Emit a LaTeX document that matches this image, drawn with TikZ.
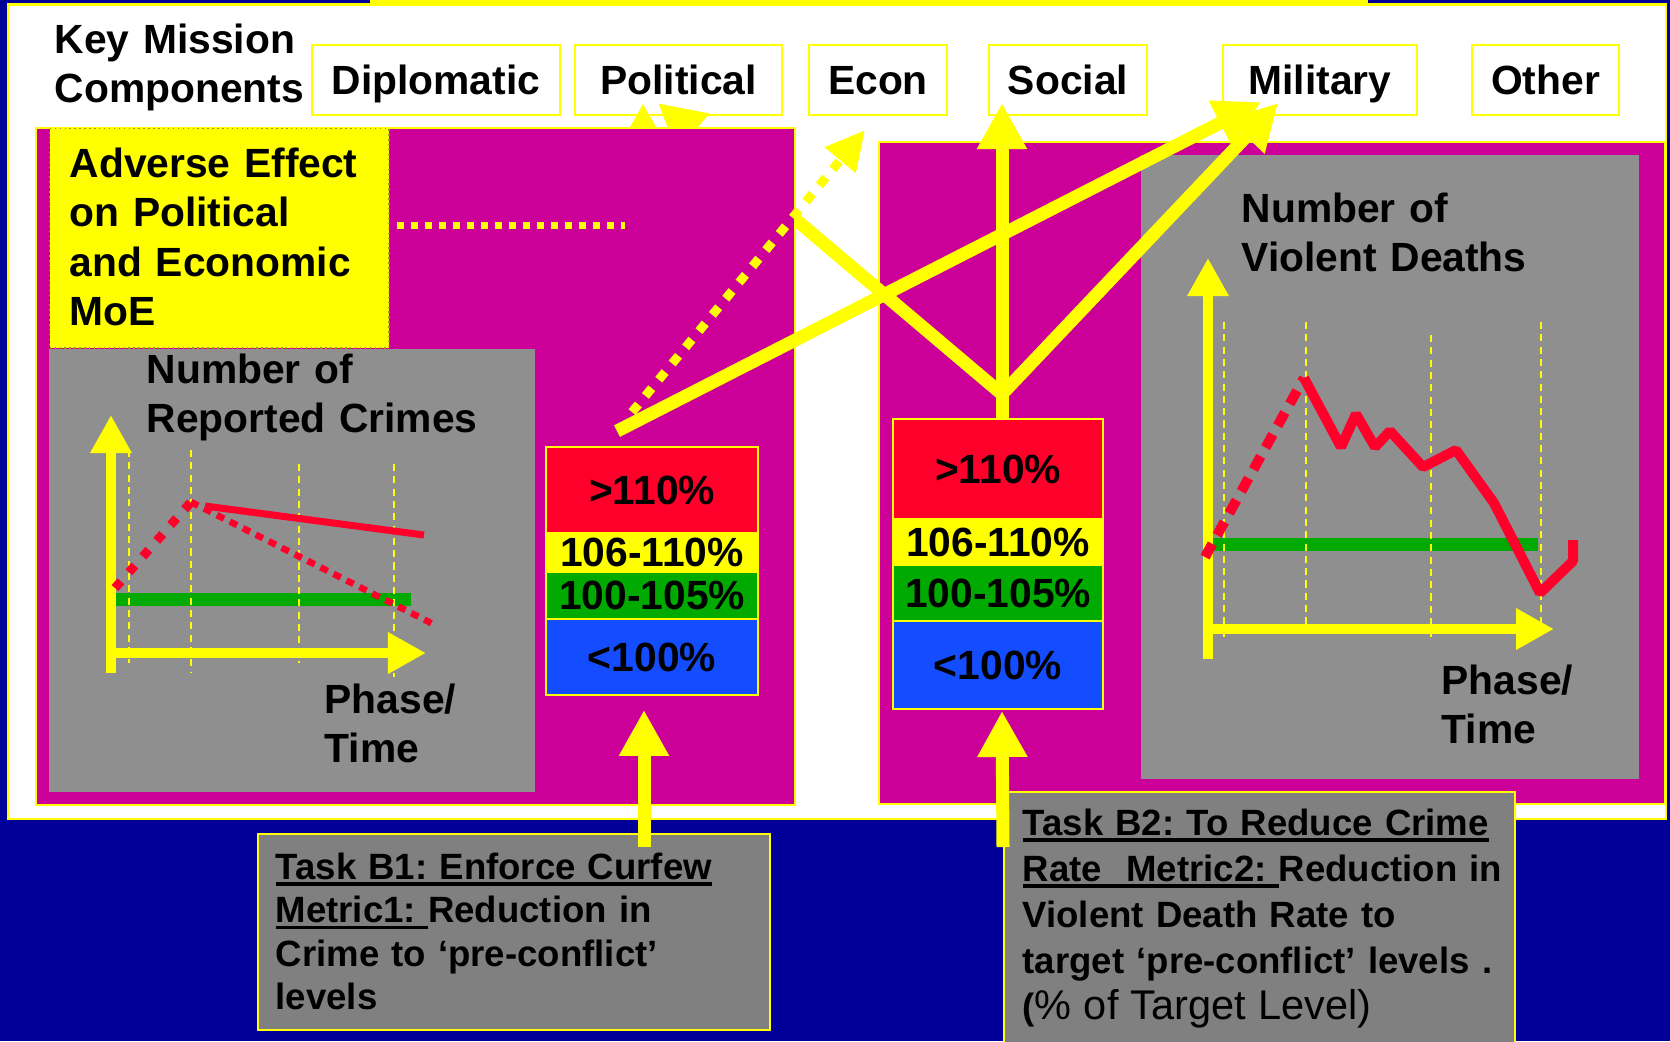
\documentclass[tikz,border=0pt]{standalone}
\usepackage{fontspec}
\setmainfont{Liberation Sans}
\usetikzlibrary{arrows.meta,calc}

\definecolor{bgblue}{RGB}{0,0,153}
\definecolor{panelmag}{RGB}{204,0,153}
\definecolor{panelgray}{RGB}{143,143,143}
\definecolor{taskgray}{RGB}{128,128,128}
\definecolor{hiyellow}{RGB}{255,255,0}
\definecolor{rateRed}{RGB}{255,0,43}
\definecolor{rateGreen}{RGB}{0,170,0}
\definecolor{rateBlue}{RGB}{20,77,255}

\newcommand\hdrfont{\bfseries\fontsize{11.6}{14.1}\selectfont}
\newcommand\ulbar[1]{\leavevmode\setbox0\hbox{#1}\rlap{\rule[-0.18em]{\wd0}{0.09em}}\box0}

\tikzset{
    >={Triangle[length=0.46cm,width=0.47cm]},
    catbox/.style={draw=hiyellow,line width=0.6pt,fill=white,minimum height=0.7cm,inner sep=0pt,text height=0.9em,text depth=0.1em,font=\hdrfont},
    band/.style={draw=hiyellow,line width=0.5pt,inner sep=0pt,font=\hdrfont},
    txtblock/.style={anchor=base west,inner sep=0pt,align=left,text width=#1,font=\hdrfont},
    txtblock/.default=5cm,
    panel/.style={draw=hiyellow,line width=0.6pt,fill=panelmag},
    taskbox/.style={draw=hiyellow,line width=0.6pt,fill=taskgray,inner sep=0pt,anchor=north west},
    bigarrow/.style={hiyellow,line width=0.13cm,->},
    axisarrow/.style={hiyellow,line width=0.1cm,-{Triangle[length=0.38cm,width=0.39cm]}},
    phaseline/.style={hiyellow,line width=0.6pt,dash pattern=on 2pt off 1.5pt}
}

\begin{document}
\frenchspacing
\begin{tikzpicture}[x=0.01cm,y=-0.01cm]
    \useasboundingbox (0,0) rectangle (1670,1041);
    % Background
    \fill[bgblue] (0,0) rectangle (1670,1041);
    \fill[hiyellow] (370,0) rectangle (1368,4);
    \draw[hiyellow,line width=0.6pt,fill=white] (8,4.5) rectangle (1666,819);

    % Mission components
    \node[txtblock=3cm] (kmc) at (54,53) {Key Mission\\Components};
    \foreach \nm/\cx/\bw/\txt in {dipl/436/2.48cm/Diplomatic,pol/678.5/2.07cm/Political,econ/878/1.38cm/Econ,soc/1068/1.58cm/Social,mil/1320/1.94cm/Military,oth/1545.5/1.47cm/Other}
        \node[catbox,minimum width=\bw] (\nm) at (\cx,80) {\txt};

    % Right panel
    \draw[panel] (879,142) rectangle (1665,804);
    \fill[panelgray] (1141,155) rectangle (1639,779);
    \node[txtblock] (vdeaths) at (1241,222) {Number of\\Violent Deaths};
    \node[txtblock] (rphase) at (1441,694) {Phase/\\Time};
    \fill[rateGreen] (1208,538) rectangle (1538,551);
    \foreach \x/\ya/\yb in {1224/322/638,1306/322/628,1431/335/638,1541/322/628}
        \draw[phaseline] (\x,\ya) -- (\x,\yb);
    \draw[axisarrow] (1208,659) -- (1208,258);
    \draw[axisarrow] (1208,629) -- (1554,629);
    \draw[rateRed,line width=0.1cm,dash pattern=on 0.15cm off 0.1cm] (1205,557) -- (1304,378);
    \draw[rateRed,line width=0.1cm,line join=bevel] (1304,378) -- (1341,447) -- (1356,414) -- (1375,447) -- (1390,431) -- (1423,467) -- (1456,450) -- (1494,503) -- (1540,593) -- (1573,561) -- (1573,540);
    \foreach \nm/\col/\cy/\bh/\txt in {rsred/rateRed/469/1cm/>110\%,rsyel/hiyellow/542/0.46cm/106-110\%,rsgrn/rateGreen/593/0.56cm/100-105\%,rsblu/rateBlue/665/0.88cm/<100\%}
        \node[band,fill=\col,minimum width=2.1cm,minimum height=\bh] (\nm) at (998,\cy) {\txt};

    % Links that run under the left panel
    \coordinate (lstop) at (643,447);
    \coordinate (rjoin) at ($(rsred.north)+(4,-24)$);
    \draw[bigarrow] (rjoin) -- ($(pol.south)+(-20.5,-13)$);
    \draw[bigarrow] (lstop) -- ($(pol.south)+(-35.5,-13)$);

    % Left panel
    \draw[panel] (36,128) rectangle (795,805);
    \node[fill=hiyellow,draw=hiyellow!60!black,densely dotted,line width=0.4pt,inner sep=0pt,minimum width=3.39cm,minimum height=2.19cm,anchor=north west] (adv) at (49,128) {};
    \node[txtblock] (advtxt) at (69,177) {Adverse Effect\\on Political\\and Economic\\MoE};
    \draw[hiyellow,line width=0.07cm,dash pattern=on 0.07cm off 0.07cm] ($(adv.north east)+(7,97)$) -- +(228,0);
    \fill[panelgray] (49,349) rectangle (535,792);
    \node[txtblock] (crimes) at (146,383) {Number of\\Reported Crimes};
    \node[txtblock] (lphase) at (324,713) {Phase/\\Time};
    \fill[rateGreen] (110,593) rectangle (411,606);
    \foreach \x/\ya/\yb in {129/450/663,191/450/673,299/464/663,394/464/677}
        \draw[phaseline] (\x,\ya) -- (\x,\yb);
    \draw[axisarrow] (111,673) -- (111,415);
    \draw[axisarrow] (111,653) -- (426,653);
    \draw[rateRed,line width=0.07cm] (205,506) -- (424,535);
    \draw[rateRed,line width=0.09cm,dash pattern=on 0.09cm off 0.12cm] (115,588) -- (191,502);
    \draw[rateRed,line width=0.065cm,dash pattern=on 0.08cm off 0.065cm] (191,502) -- (437,626);
    \foreach \nm/\col/\cy/\bh/\txt in {lsred/rateRed/490/0.86cm/>110\%,lsyel/hiyellow/552.5/0.39cm/106-110\%,lsgrn/rateGreen/595.5/0.47cm/100-105\%,lsblu/rateBlue/657/0.76cm/<100\%}
        \node[band,fill=\col,minimum width=2.12cm,minimum height=\bh] (\nm) at (652,\cy) {\txt};

    % Links to the mission components
    \draw[bigarrow] ($(lsred.north)+(-35,-15)$) -- ($(mil.south)+(-59,-14)$);
    \draw[bigarrow,line width=0.09cm,dash pattern=on 0.1cm off 0.11cm,-{Triangle[length=0.39cm,width=0.38cm]}] ($(lsred.north)+(-20,-34)$) -- ($(econ.south)+(-13,14)$);
    \draw[bigarrow] ($(rsred.north)+(4,0)$) -- ($(soc.south)+(-66,-13)$);
    \draw[bigarrow] (rjoin) -- ($(mil.south)+(-42,-13)$);

    % Tasks
    \node[taskbox,minimum width=5.12cm,minimum height=1.96cm] (taskone) at (257,833) {};
    \node[txtblock=4.9cm,font=\bfseries\fontsize{10.4}{12.4}\selectfont] (taskonetxt) at (275,879)
        {\ulbar{Task B1: Enforce Curfew}\\\ulbar{Metric1:\ }Reduction in\\Crime to ‘pre-conflict’\\levels};
    \node[taskbox,minimum width=5.11cm,minimum height=2.6cm] (tasktwo) at (1003,791) {};
    \node[txtblock=4.9cm,font=\bfseries\fontsize{10.4}{13.1}\selectfont] (tasktwotxt) at (1022,835)
        {\ulbar{Task B2: To Reduce Crime}\\\ulbar{Rate\ \ Metric2:\ }Reduction in\\Violent Death Rate to\\target ‘pre-conflict’ levels .\\({\mdseries\fontsize{11.8}{13.1}\selectfont\% of Target Level)}};
    \draw[bigarrow] ($(taskone.north west)+(387,14)$) -- ($(lsblu.south)+(-8,14)$);
    \draw[bigarrow] ($(tasktwo.north west)+(0,56)$) -- ($(rsblu.south)+(4,1)$);
\end{tikzpicture}
\end{document}
